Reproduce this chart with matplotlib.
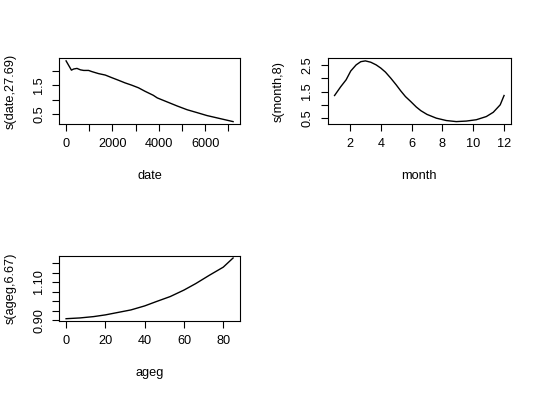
import matplotlib
matplotlib.use("Agg")
import matplotlib.pyplot as plt

plt.rcParams["font.family"] = ["Liberation Sans", "DejaVu Sans"]
plt.rcParams["font.size"] = 9.2

# smooth term for date
date = [0, 230, 330, 470, 620, 760, 970, 1110, 1400, 1690, 1970, 2260, 2540,
        2830, 3120, 3400, 3760, 3930, 4360, 4790, 5220, 5650, 6070, 6500, 6930, 7200]
s_date = [2.34, 2.02, 2.06, 2.08, 2.03, 2.01, 2.01, 1.97, 1.90, 1.85, 1.76, 1.67, 1.58,
          1.50, 1.41, 1.29, 1.15, 1.06, 0.92, 0.78, 0.65, 0.55, 0.45, 0.37, 0.29, 0.24]

# smooth term for month
month = [1.0, 1.4, 1.75, 2.05, 2.4, 2.7, 3.0, 3.35, 3.7, 4.0, 4.3, 4.65, 5.0, 5.3,
         5.6, 5.95, 6.3, 6.6, 7.0, 7.6, 8.25, 8.9, 9.55, 10.2, 10.85, 11.3, 11.75, 12.0]
s_month = [1.35, 1.68, 1.94, 2.27, 2.50, 2.62, 2.65, 2.60, 2.50, 2.38, 2.23, 2.00, 1.75, 1.52,
           1.31, 1.12, 0.92, 0.78, 0.64, 0.50, 0.41, 0.37, 0.39, 0.44, 0.56, 0.72, 1.00, 1.35]

# smooth term for ageg
ageg = [0, 7, 14, 20, 26, 33, 40, 46, 53, 60, 66, 73, 80, 85]
s_ageg = [0.908, 0.912, 0.919, 0.928, 0.940, 0.954, 0.975, 0.998, 1.024, 1.058,
          1.092, 1.136, 1.178, 1.226]

fig = plt.figure(figsize=(5.4, 3.95), dpi=100)


def panel(rect, x, y, xlab, ylab, xt, xtl, yt, ytl):
    ax = fig.add_axes(rect)
    ax.plot(x, y, color="black", lw=1.0)
    ax.margins(0.04)
    ax.set_xticks(xt)
    ax.set_xticklabels(xtl)
    ax.set_yticks(yt)
    ax.set_yticklabels(ytl, rotation=90, va="center")
    ax.tick_params(direction="out", length=4.8, width=0.8, pad=5.5)
    ax.tick_params(axis="y", pad=5.5)
    for sp in ax.spines.values():
        sp.set_linewidth(0.8)
    ax.set_xlabel(xlab, labelpad=14)
    ax.set_ylabel(ylab, labelpad=12)
    return ax


panel([0.110, 0.686, 0.334, 0.166], date, s_date, "date", "s(date,27.69)",
      range(0, 7001, 1000), ["0", "", "2000", "", "4000", "", "6000", ""],
      [0.5, 1.0, 1.5, 2.0], ["0.5", "", "1.5", ""])

panel([0.607, 0.686, 0.339, 0.166], month, s_month, "month", "s(month,8)",
      [2, 4, 6, 8, 10, 12], ["2", "4", "6", "8", "10", "12"],
      [0.5, 1.0, 1.5, 2.0, 2.5], ["0.5", "", "1.5", "", "2.5"])

panel([0.110, 0.187, 0.334, 0.166], ageg, s_ageg, "ageg", "s(ageg,6.67)",
      [0, 20, 40, 60, 80], ["0", "20", "40", "60", "80"],
      [0.90, 0.95, 1.00, 1.05, 1.10, 1.15, 1.20], ["0.90", "", "", "", "1.10", "", ""])

fig.savefig("out.png", dpi=100)
